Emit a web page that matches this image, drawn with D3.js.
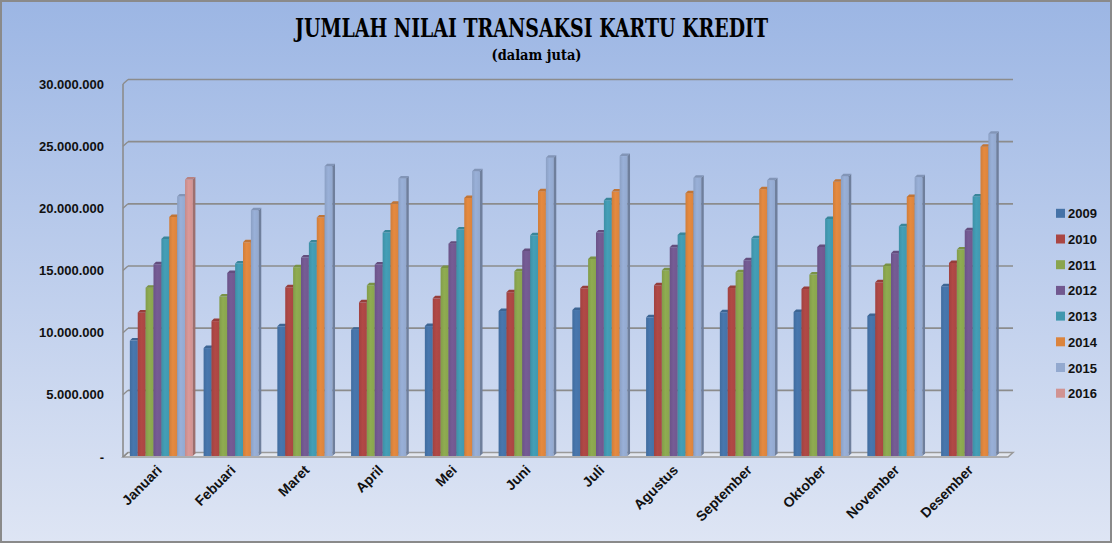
<!DOCTYPE html>
<html>
<head>
<meta charset="utf-8">
<script src="https://cdn.jsdelivr.net/npm/d3@7"></script>
<style>
  html, body { margin: 0; padding: 0; background: #fff; }
  svg { display: block; }
</style>
</head>
<body>
<div id="chart"></div>
<script>
const months = ["Januari", "Febuari", "Maret", "April", "Mei", "Juni", "Juli",
  "Agustus", "September", "Oktober", "November", "Desember"];
const years = ["2009", "2010", "2011", "2012", "2013", "2014", "2015", "2016"];

const v2009 = [9280000, 8680000, 10430000, 10160000, 10450000, 11660000, 11740000, 11150000, 11560000, 11580000, 11260000, 13650000];
const v2010 = [11550000, 10850000, 13570000, 12360000, 12680000, 13170000, 13490000, 13730000, 13510000, 13430000, 13970000, 15530000];
const v2011 = [13540000, 12820000, 15180000, 13730000, 15120000, 14860000, 15850000, 14940000, 14780000, 14590000, 15280000, 16600000];
const v2012 = [15420000, 14720000, 15960000, 15400000, 17080000, 16490000, 17970000, 16790000, 15740000, 16810000, 16310000, 18160000];
const v2013 = [17460000, 15480000, 17170000, 17970000, 18210000, 17750000, 20570000, 17780000, 17510000, 19070000, 18480000, 20870000];
const v2014 = [19230000, 17190000, 19180000, 20280000, 20760000, 21300000, 21270000, 21140000, 21460000, 22050000, 20840000, 24870000];
const v2015 = [20870000, 19770000, 23310000, 22320000, 22910000, 23980000, 24120000, 22370000, 22180000, 22510000, 22420000, 25910000];
const v2016 = [22240000, null, null, null, null, null, null, null, null, null, null, null];

const yTicks = [0, 5000000, 10000000, 15000000, 20000000, 25000000, 30000000];
const colors = ["#4572A7", "#AA4643", "#89A54E", "#71588F", "#4198AF", "#DB843D", "#93A9CF", "#D19392"];

const seriesValues = [v2009, v2010, v2011, v2012, v2013, v2014, v2015, v2016];

const W = 1112, H = 543;
const depth = { dx: 5, dy: -4.5 };   // wall depth
const barDepth = { dx: 2.5, dy: -2.5 };

const svg = d3.select("#chart").append("svg")
  .attr("width", W)
  .attr("height", H);

const defs = svg.append("defs");
const bg = defs.append("linearGradient")
  .attr("id", "bg").attr("x1", 0).attr("y1", 0).attr("x2", 0).attr("y2", 1);
bg.append("stop").attr("offset", "0%").attr("stop-color", "#9cb6e4");
bg.append("stop").attr("offset", "100%").attr("stop-color", "#dee5f4");

// bar face gradients
colors.forEach((c, i) => {
  const g = defs.append("linearGradient")
    .attr("id", "bar" + i).attr("x1", 0).attr("y1", 0).attr("x2", 1).attr("y2", 0);
  g.append("stop").attr("offset", "0%").attr("stop-color", d3.color(c).darker(0.15));
  g.append("stop").attr("offset", "45%").attr("stop-color", d3.color(c).brighter(0.12));
  g.append("stop").attr("offset", "100%").attr("stop-color", c);
});

svg.append("rect")
  .attr("x", 1).attr("y", 1)
  .attr("width", W - 2).attr("height", H - 2)
  .attr("fill", "url(#bg)")
  .attr("stroke", "#8a8a8a")
  .attr("stroke-width", 2);

// scales
const x0 = 123, x1 = 1008;
const x = d3.scaleBand()
  .domain(months)
  .range([x0, x1])
  .paddingInner(0.145)
  .paddingOuter(0.0725);

const xs = d3.scaleBand()
  .domain(years)
  .range([0, x.bandwidth()]);

const yFront = d3.scaleLinear().domain([0, 30000000]).range([457, 84]);
const yBack = v => yFront(v) + depth.dy;
const yBar = d3.scaleLinear().domain([0, 30000000]).range([456, 83]);

const fmt = d3.formatLocale({ decimal: ",", thousands: ".", grouping: [3], currency: ["", ""] }).format(",d");

// floor
svg.append("path")
  .attr("d", `M${x0},${yFront(0)} L${x1},${yFront(0)} L${x1 + depth.dx},${yBack(0)} L${x0 + depth.dx},${yBack(0)} Z`)
  .attr("fill", "#e3e7ef")
  .attr("stroke", "#9a9a9a")
  .attr("stroke-width", 1.5);

// back wall gridlines and side wall ticks
const grid = svg.append("g");
grid.selectAll("line.grid")
  .data(yTicks.filter(d => d > 0))
  .join("line")
  .attr("class", "grid")
  .attr("x1", x0 + depth.dx)
  .attr("x2", x1 + depth.dx)
  .attr("y1", d => yBack(d))
  .attr("y2", d => yBack(d))
  .attr("stroke", "#8c8c8c")
  .attr("stroke-width", 1.6);

grid.selectAll("line.side")
  .data(yTicks)
  .join("line")
  .attr("class", "side")
  .attr("x1", x0)
  .attr("x2", x0 + depth.dx)
  .attr("y1", d => yFront(d))
  .attr("y2", d => yBack(d))
  .attr("stroke", "#8c8c8c")
  .attr("stroke-width", 1.4);

grid.append("line")
  .attr("x1", x0).attr("x2", x0)
  .attr("y1", yFront(30000000)).attr("y2", yFront(0))
  .attr("stroke", "#8c8c8c")
  .attr("stroke-width", 1.6);

// y labels
svg.append("g").selectAll("text")
  .data(yTicks)
  .join("text")
  .attr("x", 104)
  .attr("y", d => yFront(d) + 4.5)
  .attr("text-anchor", "end")
  .attr("font-family", "Liberation Sans, Arial, sans-serif")
  .attr("font-weight", "bold")
  .attr("font-size", "13px")
  .attr("fill", "#111")
  .text(d => d === 0 ? "-" : fmt(d));

// bars
const barData = [];
months.forEach((m, mi) => {
  years.forEach((yr, si) => {
    const v = seriesValues[si][mi];
    if (v != null) barData.push({ month: m, year: yr, si, value: v });
  });
});

const bars = svg.append("g")
  .selectAll("g.bar")
  .data(barData)
  .join("g")
  .attr("class", "bar");

const bx = d => x(d.month) + xs(d.year) + 1.5;
const bw = xs.bandwidth();

bars.append("rect")
  .attr("x", bx)
  .attr("y", d => yBar(d.value))
  .attr("width", bw)
  .attr("height", d => yBar(0) - yBar(d.value))
  .attr("fill", d => `url(#bar${d.si})`);

bars.append("path")
  .attr("d", d => {
    const l = bx(d) + bw, t = yBar(d.value), b = yBar(0);
    return `M${l},${t} L${l},${b} L${l + barDepth.dx},${b + barDepth.dy} L${l + barDepth.dx},${t + barDepth.dy} Z`;
  })
  .attr("fill", d => d3.color(colors[d.si]).darker(0.8));

bars.append("path")
  .attr("d", d => {
    const l = bx(d), t = yBar(d.value);
    return `M${l},${t} L${l + bw},${t} L${l + bw + barDepth.dx},${t + barDepth.dy} L${l + barDepth.dx},${t + barDepth.dy} Z`;
  })
  .attr("fill", d => d3.color(colors[d.si]).darker(0.35));

// x labels
svg.append("g").selectAll("text")
  .data(months)
  .join("text")
  .attr("transform", d => `translate(${x(d) + x.bandwidth() / 2 + 3},${471}) rotate(-45)`)
  .attr("text-anchor", "end")
  .attr("font-family", "Liberation Sans, Arial, sans-serif")
  .attr("font-weight", "bold")
  .attr("font-size", "14px")
  .attr("fill", "#111")
  .text(d => d);

// title
svg.append("text")
  .attr("x", 531.5)
  .attr("y", 37)
  .attr("text-anchor", "middle")
  .attr("font-family", "DejaVu Serif, Liberation Serif, serif")
  .attr("font-weight", "bold")
  .attr("font-size", "26px")
  .attr("textLength", 473)
  .attr("lengthAdjust", "spacingAndGlyphs")
  .attr("fill", "#000")
  .text("JUMLAH NILAI TRANSAKSI KARTU KREDIT");

svg.append("text")
  .attr("x", 536.5)
  .attr("y", 60)
  .attr("text-anchor", "middle")
  .attr("font-family", "DejaVu Serif, Liberation Serif, serif")
  .attr("font-weight", "bold")
  .attr("font-size", "15px")
  .attr("textLength", 90)
  .attr("lengthAdjust", "spacingAndGlyphs")
  .attr("fill", "#000")
  .text("(dalam juta)");

// legend
const legend = svg.append("g")
  .selectAll("g")
  .data(years)
  .join("g")
  .attr("transform", (d, i) => `translate(1056,${213.3 + i * 25.7})`);

legend.append("rect")
  .attr("x", 0).attr("y", -4.5)
  .attr("width", 9).attr("height", 9)
  .attr("fill", (d, i) => colors[i]);

legend.append("text")
  .attr("x", 12)
  .attr("y", 5)
  .attr("font-family", "Liberation Sans, Arial, sans-serif")
  .attr("font-weight", "bold")
  .attr("font-size", "13px")
  .attr("fill", "#111")
  .text(d => d);
</script>
</body>
</html>
